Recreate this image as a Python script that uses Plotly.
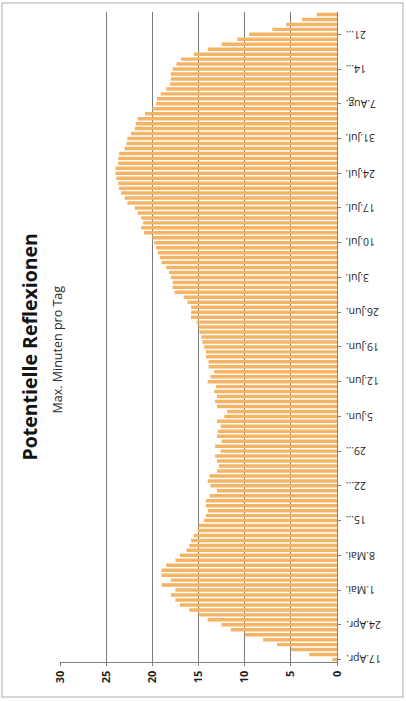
import pandas as pd
import plotly.graph_objects as go

# Maximum minutes of potential reflection per day, starting 17 April
start_date = "2014-04-17"
minutes = [
    0.5, 3, 5, 6.5, 8, 10, 11.5, 12.5, 14, 15, 16, 17, 17.5, 18, 17.5, 19, 18, 19, 19, 18.5, 17.5, 17, 16.3, 16,
    15.8, 15.5, 15.1, 15, 14.4, 14.2, 14, 14.2, 14.2, 13.8, 13, 13.7, 14, 13.8, 13, 12.8, 13, 13.2, 12.6, 13.2, 12.5, 13,
    12.9, 12.6, 13, 12.2, 11.9, 13, 13.2, 13, 13.3, 13.1, 14, 13.7, 13.3, 13.9, 13.9, 14.2, 14.2, 14.4, 14.6, 14.7,
    14.9, 15, 15.2, 15.8, 15.8, 15.8, 16.2, 16.6, 17.6, 17.8, 17.8, 18, 18.2, 18.5, 19, 19.2, 19.4, 19.6, 19.8, 20, 20.9, 21.2,
    21, 21.2, 21.6, 21.9, 22.7, 23, 23.4, 23.6, 23.7, 23.9, 24, 24, 23.7, 23.7, 23.6, 23, 22.8, 22.7, 22.3, 21.9, 21.8, 21.6,
    20.8, 20, 19.6, 19.5, 19.1, 18.5, 18.1, 18, 18, 17.8, 17.4, 16.9, 15.5, 14, 12.5, 10.8, 9.5, 7, 5.5, 3.8, 2.2,
]

# Weekly date labels
tick_dates = [
    "2014-04-17", "2014-04-24", "2014-05-01", "2014-05-08", "2014-05-15", "2014-05-22", "2014-05-29",
    "2014-06-05", "2014-06-12", "2014-06-19", "2014-06-26", "2014-07-03", "2014-07-10", "2014-07-17",
    "2014-07-24", "2014-07-31", "2014-08-07", "2014-08-14", "2014-08-21",
]
tick_labels = [
    "17.Apr.", "24.Apr.", "1.Mai.", "8.Mai.", "15...", "22...", "29...",
    "5.Jun.", "12.Jun.", "19.Jun.", "26.Jun.", "3.Jul.", "10.Jul.", "17.Jul.",
    "24.Jul.", "31.Jul.", "7.Aug.", "14...", "21...",
]
value_ticks = [0, 5, 10, 15, 20, 25, 30]

days = pd.date_range(start_date, periods=len(minutes), freq="D")

fig = go.Figure(
    go.Bar(
        x=minutes,
        y=days,
        orientation="h",
        marker=dict(color="#F3B466", line=dict(width=0)),
    )
)

W, H = 406, 701
L, R, T, B = 60, 69, 12, 39
pw, ph = W - L - R, H - T - B


def px_x(p):
    return (p - L) / pw


def px_y(p):
    return (H - B - p) / ph


# Upside-down date labels just outside the right-hand axis
date_annotations = [
    dict(
        text=lab,
        xref="paper", yref="y",
        x=px_x(344), y=d,
        xanchor="left", yanchor="middle",
        textangle=180,
        showarrow=False,
        font=dict(size=10.5, color="#1e1e1e"),
    )
    for d, lab in zip(tick_dates, tick_labels)
]

fig.update_layout(
    width=W,
    height=H,
    margin=dict(l=L, r=R, t=T, b=B, pad=0),
    paper_bgcolor="white",
    plot_bgcolor="white",
    bargap=0.3,
    showlegend=False,
    font=dict(family="Open Sans, Lato, sans-serif", color="#333333"),
    xaxis=dict(
        range=[30, 0],
        tickvals=value_ticks,
        ticktext=[f"<b>{v}</b>" for v in value_ticks],
        tickangle=-90,
        tickfont=dict(size=11, color="#1e1e1e"),
        showgrid=True,
        gridcolor="#7a7a7a",
        gridwidth=1.4,
        showline=True,
        linecolor="#808080",
        linewidth=1.4,
        ticks="outside",
        ticklen=3,
        tickcolor="#808080",
        zeroline=False,
        layer="above traces",
        fixedrange=True,
    ),
    yaxis=dict(
        type="date",
        side="right",
        range=[days[0] - pd.Timedelta(hours=12), days[-1] + pd.Timedelta(hours=12)],
        tickvals=tick_dates,
        showticklabels=False,
        showgrid=False,
        showline=True,
        linecolor="#808080",
        linewidth=1.4,
        ticks="outside",
        ticklen=3,
        tickcolor="#808080",
        zeroline=False,
        fixedrange=True,
    ),
    annotations=[
        dict(
            text="<b>Potentielle Reflexionen</b>",
            xref="paper", yref="paper",
            x=px_x(14), y=px_y(347),
            textangle=-90,
            showarrow=False,
            font=dict(size=19.5, color="#141414"),
        ),
        dict(
            text="Max. Minuten pro Tag",
            xref="paper", yref="paper",
            x=px_x(46), y=px_y(350),
            textangle=-90,
            showarrow=False,
            font=dict(size=12.5, color="#2a2a2a"),
        ),
    ] + date_annotations,
    shapes=[
        dict(
            type="rect",
            xref="paper", yref="paper",
            x0=px_x(2), x1=px_x(403),
            y0=px_y(697), y1=px_y(3),
            line=dict(color="#c8c8c8", width=1.5),
            fillcolor="rgba(0,0,0,0)",
            layer="below",
        )
    ],
)

fig.write_html("out.html")
